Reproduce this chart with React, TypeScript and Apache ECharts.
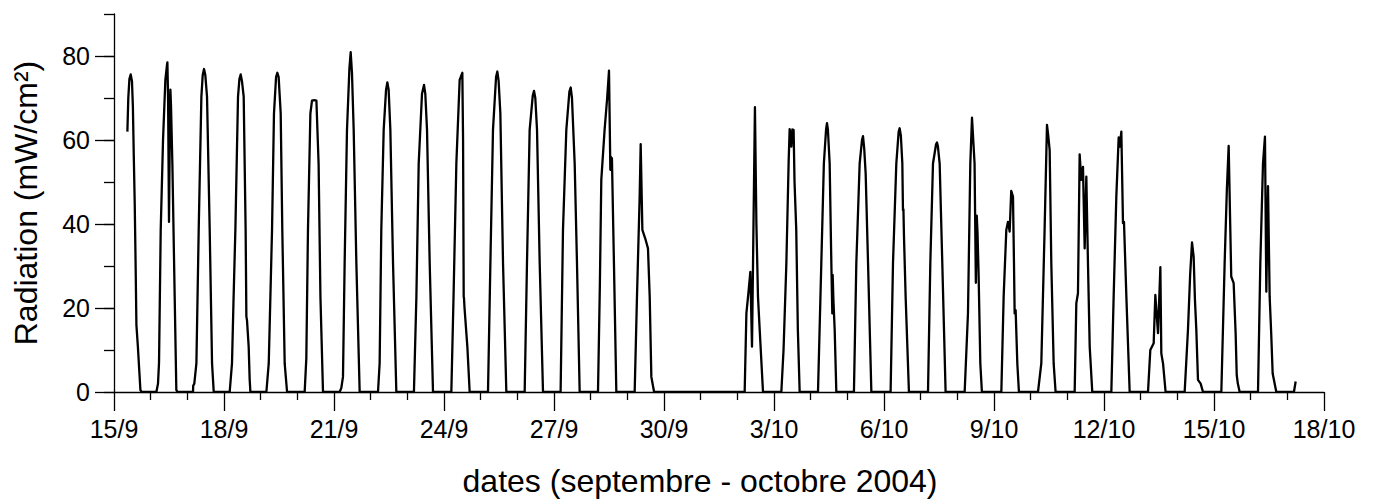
import React, { useEffect, useRef } from "react";
import * as echarts from "echarts";

// x tick labels (every 3 days, starting 15/9)
const tickLabels = ["15/9", "18/9", "21/9", "24/9", "27/9", "30/9", "3/10", "6/10", "9/10", "12/10", "15/10", "18/10"];
const yMajorTicks = [0, 20, 40, 60, 80];

// Radiation samples: [days since 15/9 00:00, mW/cm²]
const sep15 = [[0.365, 62], [0.39, 70], [0.42, 74.5], [0.455, 75.6], [0.49, 74], [0.515, 68], [0.54, 56], [0.565, 45], [0.59, 30], [0.611, 16], [0.65, 11], [0.69, 5], [0.72, 0.5], [0.75, 0]];
const sep16 = [[1.156, 0], [1.2, 2], [1.228, 7], [1.274, 38.6], [1.337, 60], [1.401, 74.3], [1.44, 77.5], [1.456, 78.5], [1.475, 70], [1.5, 40.5], [1.52, 60], [1.538, 72], [1.555, 68], [1.592, 54.4], [1.655, 22.7], [1.7, 0.5], [1.73, 0]];
const sep17 = [[2.155, 0], [2.16, 1.5], [2.19, 2], [2.247, 6.8], [2.31, 38.6], [2.383, 70.3], [2.42, 75.5], [2.455, 76.9], [2.49, 75.5], [2.537, 70.3], [2.61, 38.6], [2.674, 6.8], [2.72, 0]];
const sep18 = [[3.155, 0], [3.218, 6.8], [3.26, 22], [3.31, 38.6], [3.382, 70.3], [3.42, 74.5], [3.455, 75.6], [3.49, 74], [3.537, 70.3], [3.59, 38.6], [3.61, 18], [3.628, 17], [3.673, 10.8], [3.7, 3], [3.72, 0]];
const sep19 = [[4.156, 0], [4.22, 6.8], [4.31, 38.6], [4.363, 66.3], [4.42, 75], [4.455, 76], [4.49, 75], [4.546, 66.4], [4.59, 38.6], [4.655, 6.8], [4.72, 0]];
const sep20 = [[5.2, 0], [5.245, 8], [5.29, 38.6], [5.356, 66.3], [5.4, 69.4], [5.46, 69.5], [5.52, 69.4], [5.58, 54.4], [5.63, 22.7], [5.7, 0]];
const sep21 = [[6.155, 0], [6.2, 1], [6.245, 3.6], [6.29, 30.6], [6.354, 62.4], [6.42, 77], [6.455, 80.9], [6.49, 76], [6.537, 62.4], [6.61, 30.6], [6.7, 0]];
const sep22 = [[7.2, 0], [7.245, 6.9], [7.29, 38.6], [7.355, 62.4], [7.42, 72], [7.455, 73.7], [7.49, 72], [7.537, 62.4], [7.61, 30.6], [7.7, 0]];
const sep23 = [[8.18, 0], [8.247, 22.7], [8.31, 54.4], [8.4, 71], [8.455, 73.1], [8.49, 71], [8.537, 62.4], [8.61, 30.6], [8.7, 0]];
const sep24 = [[9.2, 0], [9.26, 22.7], [9.337, 54.4], [9.427, 74.3], [9.5, 76], [9.52, 60], [9.537, 22.7], [9.545, 22.4], [9.56, 20], [9.637, 10.8], [9.7, 0]];
const sep25 = [[10.2, 0], [10.265, 30.6], [10.336, 62.4], [10.42, 75], [10.455, 76.3], [10.49, 74], [10.537, 66.3], [10.61, 30.6], [10.7, 0]];
const sep26 = [[11.2, 0], [11.263, 30.6], [11.336, 62.4], [11.42, 70.5], [11.455, 71.7], [11.49, 70], [11.537, 62.4], [11.61, 30.6], [11.7, 0]];
const sep27 = [[12.18, 0], [12.245, 38.6], [12.336, 62.4], [12.42, 71.5], [12.455, 72.5], [12.49, 70], [12.564, 54.4], [12.627, 30.6], [12.7, 0]];
const sep28 = [[13.2, 0], [13.25, 25], [13.29, 50.5], [13.38, 62.4], [13.45, 70], [13.5, 76.5], [13.537, 52.9], [13.545, 56], [13.58, 55.6], [13.635, 30.6], [13.7, 0]];
const sep29 = [[14.2, 0], [14.263, 22.7], [14.336, 46.5], [14.364, 59], [14.41, 38.6], [14.5, 36.2], [14.563, 34.2], [14.61, 22.7], [14.655, 3.6], [14.73, 0]];
const oct2 = [[17.2, 0], [17.247, 18.7], [17.31, 24.3], [17.355, 28.6], [17.4, 10.8], [17.48, 67.8], [17.52, 40], [17.563, 22.7], [17.61, 14.8], [17.7, 0]];
const oct3 = [[18.2, 0], [18.26, 10], [18.337, 30.6], [18.4, 55], [18.427, 62.6], [18.45, 61], [18.473, 58.4], [18.5, 62.5], [18.535, 62.4], [18.56, 50], [18.607, 38.6], [18.65, 15], [18.7, 0]];
const oct4 = [[19.2, 0], [19.29, 30.6], [19.36, 54.4], [19.42, 62.5], [19.445, 64], [19.47, 62.5], [19.518, 54.4], [19.564, 30.6], [19.59, 18.7], [19.6, 27.9], [19.62, 22], [19.655, 14.8], [19.7, 0]];
const oct5 = [[20.18, 0], [20.245, 30.6], [20.336, 54.4], [20.4, 60], [20.427, 60.9], [20.46, 58], [20.5, 52], [20.565, 30.6], [20.655, 0]];
const oct6 = [[21.18, 0], [21.245, 30.6], [21.336, 54.4], [21.4, 62], [21.426, 62.8], [21.46, 61], [21.5, 54.4], [21.517, 43.3], [21.53, 43.5], [21.545, 37], [21.59, 22.7], [21.68, 0]];
const oct7 = [[22.2, 0], [22.263, 30.6], [22.336, 54.4], [22.42, 59], [22.445, 59.4], [22.47, 58.5], [22.518, 54.4], [22.59, 30.6], [22.68, 0]];
const oct8 = [[23.2, 0], [23.29, 18.7], [23.354, 54.4], [23.4, 65.3], [23.47, 54.4], [23.505, 26], [23.53, 42], [23.55, 38], [23.58, 28], [23.627, 6.8], [23.67, 0]];
const oct9 = [[24.2, 0], [24.263, 22.7], [24.336, 38.6], [24.38, 40.5], [24.427, 38.2], [24.47, 47.9], [24.518, 46.5], [24.545, 30.6], [24.563, 18.7], [24.59, 19.5], [24.636, 6.8], [24.68, 0]];
const oct10 = [[25.2, 0], [25.29, 6.8], [25.38, 38.6], [25.445, 63.6], [25.48, 61], [25.518, 57.6], [25.563, 30.6], [25.627, 6.8], [25.68, 0]];
const oct11 = [[26.2, 0], [26.245, 21.1], [26.29, 23.5], [26.336, 56.6], [26.38, 50.5], [26.427, 53.6], [26.473, 34.2], [26.518, 51.3], [26.563, 30.6], [26.61, 10.8], [26.68, 0]];
const oct12 = [[27.2, 0], [27.263, 22.7], [27.336, 46.5], [27.4, 60.6], [27.427, 58.4], [27.473, 62], [27.518, 40.2], [27.545, 40.5], [27.61, 22.7], [27.7, 0]];
const oct13 = [[28.2, 0], [28.263, 10], [28.355, 11.6], [28.4, 23.1], [28.473, 14], [28.537, 29.7], [28.563, 9.2], [28.61, 6.8], [28.68, 0]];
const oct14 = [[29.2, 0], [29.29, 14.8], [29.35, 28], [29.4, 35.6], [29.445, 32.2], [29.48, 22], [29.518, 14.8], [29.563, 2.9], [29.636, 2], [29.7, 0]];
const oct15 = [[30.2, 0], [30.29, 30.6], [30.35, 48], [30.4, 58.6], [30.47, 27.5], [30.536, 25.9], [30.59, 14], [30.62, 4], [30.65, 2], [30.7, 0]];
const oct16 = [[31.2, 0], [31.263, 30.6], [31.336, 54.4], [31.39, 60.8], [31.427, 23.9], [31.473, 49], [31.518, 22.7], [31.56, 14], [31.6, 4.4], [31.7, 0]];
const oct17 = [[32.18, 0], [32.227, 2.5]];

const allDays = [sep15, sep16, sep17, sep18, sep19, sep20, sep21, sep22, sep23, sep24, sep25, sep26, sep27, sep28, sep29,
  oct2, oct3, oct4, oct5, oct6, oct7, oct8, oct9, oct10, oct11, oct12, oct13, oct14, oct15, oct16, oct17];

const FONT = "'Liberation Sans', Arial, Helvetica, sans-serif";

export default function App() {
  const ref = useRef<HTMLDivElement>(null);
  useEffect(() => {
    if (!ref.current) return;
    const chart = echarts.init(ref.current, null, { renderer: "svg" });
    const data: number[][] = [];
    allDays.forEach((d) => d.forEach((p) => data.push(p)));
    const black = "#000";
    chart.setOption({
      animation: false,
      backgroundColor: "#fff",
      grid: { left: 114, right: 50, top: 14, bottom: 112 },
      xAxis: {
        type: "value",
        min: 0,
        max: 33,
        interval: 3,
        name: "dates (septembre - octobre 2004)",
        nameLocation: "middle",
        nameGap: 73,
        nameTextStyle: { fontFamily: FONT, fontSize: 32, color: black, padding: [0, 38, 0, 0] },
        axisLine: { show: true, onZero: false, lineStyle: { color: black, width: 1.3 } },
        axisTick: { show: true, length: 19, lineStyle: { color: black, width: 1.3 } },
        minorTick: { show: true, splitNumber: 3, length: 8, lineStyle: { color: black, width: 1.3 } },
        axisLabel: {
          margin: 24,
          fontFamily: FONT,
          fontSize: 25,
          color: black,
          formatter: (v: number) => tickLabels[Math.round(v / 3)] ?? "",
        },
        splitLine: { show: false },
        minorSplitLine: { show: false },
      },
      yAxis: [
        {
          type: "value",
          min: 0,
          max: 90,
          interval: 10,
          position: "left",
          axisLine: { show: true, onZero: false, lineStyle: { color: black, width: 1.3 } },
          axisTick: { show: true, length: 10, lineStyle: { color: black, width: 1.3 } },
          axisLabel: { show: false },
          splitLine: { show: false },
        },
        {
          type: "value",
          min: 0,
          max: 90,
          interval: 10,
          position: "left",
          name: "Radiation (mW/cm²)",
          nameLocation: "middle",
          nameGap: 72,
          nameTextStyle: { fontFamily: FONT, fontSize: 32, color: black },
          axisLine: { show: false },
          axisTick: { show: true, length: 19, customValues: yMajorTicks, lineStyle: { color: black, width: 1.3 } },
          axisLabel: {
            show: true,
            margin: 24,
            customValues: yMajorTicks,
            fontFamily: FONT,
            fontSize: 25,
            color: black,
            formatter: (v: number) => (yMajorTicks.indexOf(v) >= 0 ? String(v) : ""),
          },
          splitLine: { show: false },
        },
      ],
      series: [
        {
          type: "line",
          xAxisIndex: 0,
          yAxisIndex: 0,
          data,
          showSymbol: false,
          symbol: "none",
          lineStyle: { color: black, width: 2.3, join: "round" },
          itemStyle: { color: black },
          silent: true,
        },
      ],
    });
    return () => chart.dispose();
  }, []);
  return <div ref={ref} style={{ position: "fixed", left: 0, top: 0, width: 1374, height: 504, background: "#fff" }} />;
}
